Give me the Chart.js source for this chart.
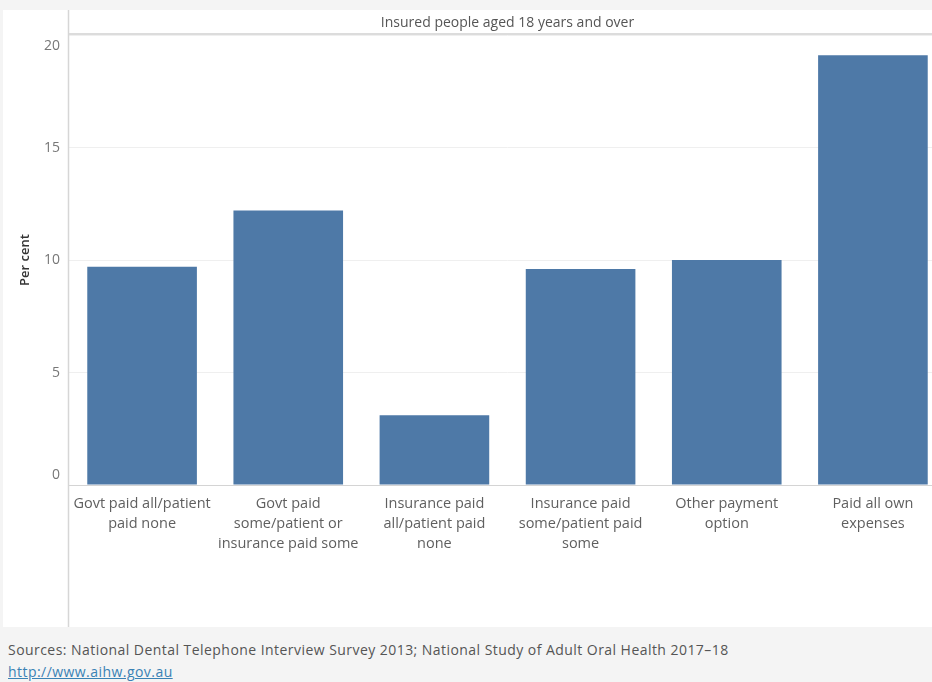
<!DOCTYPE html>
<html>
<head>
<meta charset="utf-8">
<script src="https://cdn.jsdelivr.net/npm/chart.js@4.4.0/dist/chart.umd.min.js"></script>
<style>
  html, body { margin: 0; padding: 0; }
  body {
    width: 932px; height: 682px; overflow: hidden;
    background: #f4f4f4; position: relative;
    font-family: "Open Sans", sans-serif;
  }
  .panel {
    position: absolute; left: 3px; top: 10px; width: 929px; height: 617px;
    background: #fff; overflow: hidden;
  }
  .chart-box {
    position: absolute; left: -3px; top: 0; width: 946px; height: 617px;
  }
  .footer {
    position: absolute; left: 8px; top: 639px;
    font-size: 14px; letter-spacing: 0.45px; color: #555; line-height: 22px;
  }
  .footer a { color: #3a82b5; text-decoration: underline; }
</style>
</head>
<body>
<div class="panel">
  <div class="chart-box"><canvas id="myChart"></canvas></div>
</div>
<div class="footer">
  <div>Sources: National Dental Telephone Interview Survey 2013; National Study of Adult Oral Health 2017–18</div>
  <div><a href="#">http://www.aihw.gov.au</a></div>
</div>
<script>
// categories, wrapped the way the original wraps them
const categories = [
    ["Govt paid all/patient", "paid none"],
    ["Govt paid", "some/patient or", "insurance paid some"],
    ["Insurance paid", "all/patient paid", "none"],
    ["Insurance paid", "some/patient paid", "some"],
    ["Other payment", "option"],
    ["Paid all own", "expenses"]
];
const percent = [9.7, 12.2, 3.1, 9.6, 10.0, 19.1];
const yTicks = [0, 5, 10, 15, 20];

// Tableau keeps the end labels inside the pane, so 0 and 20 are nudged inward
const yLabels = {
    id: "yLabels",
    afterDraw(chart) {
        const { ctx } = chart;
        const y = chart.scales.y;
        ctx.save();
        ctx.fillStyle = "#777";
        ctx.font = "14px 'Open Sans', sans-serif";
        ctx.textAlign = "right";
        ctx.textBaseline = "middle";
        y.ticks.forEach(t => {
            let py = y.getPixelForValue(t.value);
            if (t.value === y.min) py -= 10;
            if (t.value === y.max) py += 11;
            ctx.fillText(String(t.value), y.right - 9, py);
        });
        ctx.restore();
    }
};

const frameLines = {
    id: "frameLines",
    afterDraw(chart) {
        const { ctx, chartArea, height } = chart;
        const titleBox = chart.titleBlock;
        ctx.save();
        // header rule under the panel title
        ctx.strokeStyle = "#dcdcdc";
        ctx.lineWidth = 2;
        ctx.beginPath();
        ctx.moveTo(chartArea.left - 1, titleBox.bottom - 1);
        ctx.lineTo(chart.width, titleBox.bottom - 1);
        ctx.stroke();
        // full height left rule
        ctx.strokeStyle = "#d6d6d6";
        ctx.lineWidth = 1.5;
        ctx.beginPath();
        ctx.moveTo(chartArea.left - 0.5, 0);
        ctx.lineTo(chartArea.left - 0.5, height);
        ctx.stroke();
        ctx.restore();
    }
};

const ctx = document.getElementById("myChart");

const myChart = new Chart(ctx, {
    type: "bar",
    data: {
        labels: categories,
        datasets: [{
            label: "Per cent",
            data: percent,
            backgroundColor: "#4e79a7",
            barPercentage: 0.75,
            categoryPercentage: 1.0
        }]
    },
    options: {
        responsive: true,
        maintainAspectRatio: false,
        animation: false,
        layout: { padding: { top: 1 } },
        plugins: {
            legend: { display: false },
            tooltip: { enabled: false },
            title: {
                display: true,
                fullSize: false,
                text: "Insured people aged 18 years and over",
                color: "#555",
                font: { family: "'Open Sans', sans-serif", size: 14, weight: "normal", lineHeight: 1.15 },
                padding: { top: 4, bottom: 4 }
            }
        },
        scales: {
            x: {
                grid: { display: false },
                border: { display: true, color: "#d4d4d4", width: 1 },
                ticks: {
                    color: "#5f5f5f",
                    maxRotation: 0,
                    autoSkip: false,
                    padding: 1,
                    font: { family: "'Open Sans', sans-serif", size: 14.5, lineHeight: 1.38 }
                },
                afterFit(scale) { scale.height = 142; }
            },
            y: {
                min: 0,
                max: 20,
                afterBuildTicks(scale) {
                    scale.ticks = yTicks.map(v => ({ value: v }));
                },
                grid: { color: "#efefef", drawTicks: false },
                border: { display: false },
                ticks: { display: false },
                title: {
                    display: true,
                    text: "Per cent",
                    color: "#333",
                    padding: { top: 17, bottom: 0 },
                    font: { family: "'Open Sans', sans-serif", size: 13, weight: "600" }
                },
                afterFit(scale) { scale.width = 69; }
            }
        }
    },
    plugins: [frameLines, yLabels]
});
</script>
</body>
</html>
